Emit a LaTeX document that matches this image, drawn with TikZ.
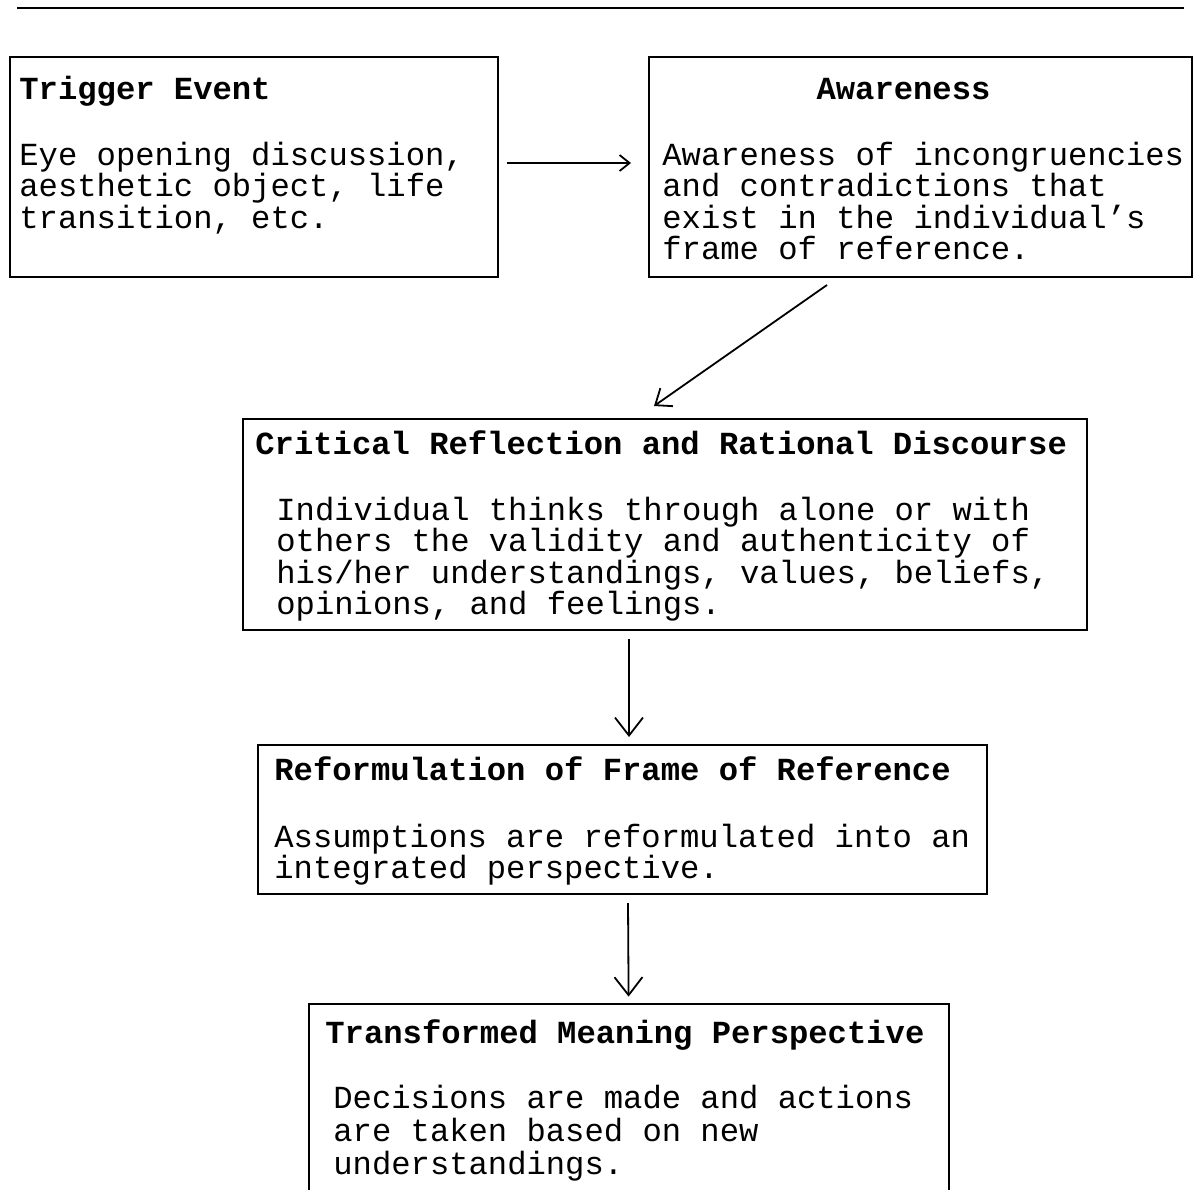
\documentclass[tikz,border=0pt]{standalone}
\usepackage{fontspec}
\setmonofont{Liberation Mono}
\usetikzlibrary{arrows.meta,calc,fit}

\begin{document}
\begin{tikzpicture}[x=0.5pt,y=-0.5pt,
  box/.style={draw, line width=1pt, inner sep=0pt},
  txt/.style={anchor=base west, inner sep=0pt, align=left, font=\fontsize{16.1}{15.75}\selectfont\ttfamily},
  ttl/.style={txt, font=\fontsize{16.1}{15.75}\selectfont\ttfamily\bfseries},
  arr/.style={line width=0.9pt, -{Straight Barb[length=9pt,width=14pt]}}]

\useasboundingbox (0,0) rectangle (1193,1190);

%Ylaviiva
\draw[line width=1.3pt] (17,8) coordinate (rule-l) -- (1184,8) coordinate (rule-r);

% Laatikot
\node[box, fit={(9.5,57) (497.5,277)}] (trigger) {};
\node[box, fit={(649,57) (1191.5,277)}] (awareness) {};
\node[box, fit={(243,419) (1087,630)}] (critical) {};
\node[box, fit={(258,745) (987,894)}] (reform) {};
\node[inner sep=0pt, fit={(309,1004) (949,1190)}] (meaning) {};
\draw[line width=1pt] (meaning.south west) -- (meaning.north west) -- (meaning.north east) -- (meaning.south east);

% Otsikot
\node[ttl] (trigger-title) at (19,99) {Trigger Event};
\node[ttl, anchor=base] (awareness-title) at (903.5,99) {Awareness};
\node[ttl] (critical-title) at (255,454) {Critical Reflection and Rational Discourse};
\node[ttl] (reform-title) at (274,780) {Reformulation of Frame of Reference};
\node[ttl] (meaning-title) at (325,1043) {Transformed Meaning Perspective};

% Tekstit (base = viimeinen rivi)
\node[txt] (trigger-text) at (19,228) {Eye opening discussion,\\aesthetic object, life\\transition, etc.};
\node[txt] (awareness-text) at (662,259.5) {Awareness of incongruencies\\and contradictions that\\exist in the individual’s\\frame of reference.};
\node[txt] (critical-text) at (276,614.5) {Individual thinks through alone or with\\others the validity and authenticity of\\his/her understandings, values, beliefs,\\opinions, and feelings.};
\node[txt] (reform-text) at (274,878.5) {Assumptions are reformulated into an\\integrated perspective.};
\node[txt, font=\fontsize{16.1}{16.5}\selectfont\ttfamily] (meaning-text) at (333,1174) {Decisions are made and actions\\are taken based on new\\understandings.};

% Nuolet
\draw[arr, -{Straight Barb[length=5pt,width=8pt]}] ([yshift=2pt]trigger.east) ++(8,0) -- ($([yshift=2pt]awareness.west)+(-17,0)$);
\draw[arr, -{Straight Barb[length=7pt,width=11pt]}] ($(awareness.south west)+(179,7)$) -- ($(critical.north west)+(412,-12)$);
\draw[arr] ($(critical.south west)+(387,8)$) -- ($(reform.north west)+(372,-7)$);
\draw[arr] ($(reform.south west)+(371,8)$) -- ($(meaning.north west)+(320,-7)$);

\end{tikzpicture}
\end{document}
